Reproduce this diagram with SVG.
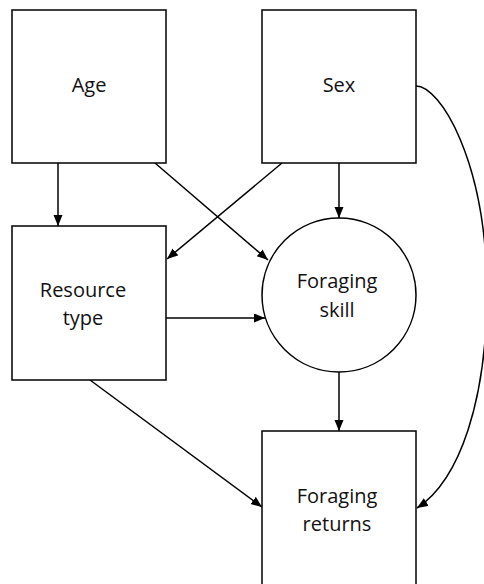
<svg xmlns="http://www.w3.org/2000/svg" width="484" height="584" viewBox="0 0 484 584">
<style>
.n{fill:#fff;stroke:#000;stroke-width:1.5}
.t{font-family:"Open Sans","Liberation Sans",sans-serif;font-size:20px;fill:#111;text-anchor:middle}
.c{fill:none;stroke:#000;stroke-width:1.5}
</style>
<defs>
<marker id="ah" markerUnits="userSpaceOnUse" markerWidth="12" markerHeight="10" refX="11" refY="4.5" orient="auto">
<path d="M0,0 L11,4.5 L0,9 z" fill="#000"/>
</marker>
</defs>
<rect width="484" height="584" fill="#fff"/>
<g id="connectors">
<line class="c" x1="58" y1="163" x2="58" y2="226" marker-end="url(#ah)"/>
<line class="c" x1="155" y1="163" x2="268" y2="260" marker-end="url(#ah)"/>
<line class="c" x1="282" y1="163" x2="167" y2="259" marker-end="url(#ah)"/>
<line class="c" x1="339" y1="163" x2="339" y2="218" marker-end="url(#ah)"/>
<line class="c" x1="166" y1="318" x2="265" y2="318" marker-end="url(#ah)"/>
<line class="c" x1="339" y1="372" x2="339" y2="431" marker-end="url(#ah)"/>
<line class="c" x1="90" y1="380" x2="262" y2="507" marker-end="url(#ah)"/>
<path class="c" d="M416,86 C440,86 486,160 487,290 C487,400 460,480 417,508" marker-end="url(#ah)"/>
</g>
<g id="age">
<rect class="n" x="12" y="10" width="154" height="153"/>
<text class="t" x="89" y="92">Age</text>
</g>
<g id="sex">
<rect class="n" x="262" y="10" width="154" height="153"/>
<text class="t" x="339" y="92">Sex</text>
</g>
<g id="resource-type">
<rect class="n" x="12" y="226" width="154" height="154"/>
<text class="t" x="83" y="297">Resource</text>
<text class="t" x="83" y="325">type</text>
</g>
<g id="foraging-skill">
<circle class="n" cx="339" cy="295" r="77"/>
<text class="t" x="337" y="288">Foraging</text>
<text class="t" x="337" y="317">skill</text>
</g>
<g id="foraging-returns">
<rect class="n" x="262" y="431" width="154" height="170"/>
<text class="t" x="337" y="503">Foraging</text>
<text class="t" x="337" y="531">returns</text>
</g>
</svg>
